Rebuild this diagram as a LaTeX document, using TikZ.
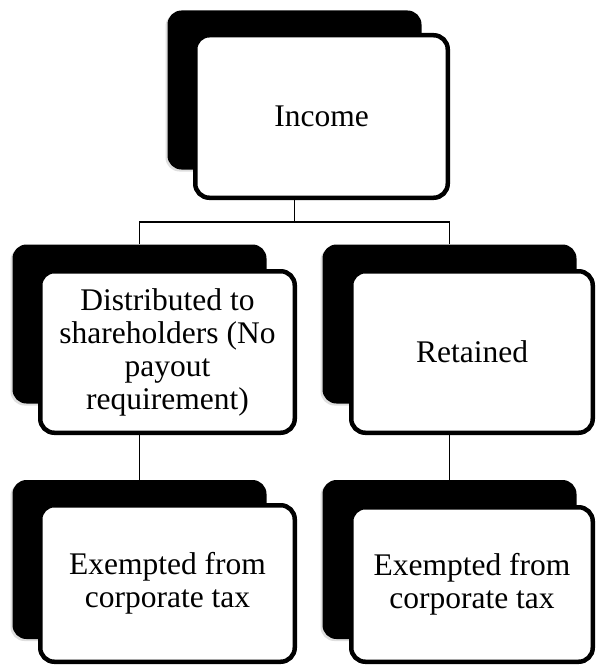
\documentclass[tikz,border=0pt]{standalone}
\usepackage{fontspec}
\setmainfont{Liberation Serif}
\begin{document}
\begin{tikzpicture}[x=1pt,y=-1pt,
  backbox/.style={fill=black, rounded corners=14pt, inner sep=0pt, minimum width=254pt, minimum height=159pt},
  shade/.style={fill=black!25, opacity=0.5, rounded corners=14pt, inner sep=0pt, minimum width=254pt, minimum height=159pt},
  frontbox/.style={draw=black, line width=4.5pt, fill=white, rounded corners=14pt, inner sep=0pt,
    align=center, font=\fontsize{31.5}{33}\selectfont},
  conn/.style={draw=black, line width=1.5pt}]
\useasboundingbox (0,0) rectangle (595,666);
% shadows
\node[shade] at (292.5,92) {};
\node[shade] at (137.5,326) {};
\node[shade] at (447.5,326) {};
\node[shade] at (137.5,561.5) {};
\node[shade] at (447.5,561.5) {};
% back boxes
\node[backbox] (tb) at (294.5,90) {};
\node[backbox] (lb) at (139.5,324) {};
\node[backbox] (rb) at (449.5,324) {};
\node[backbox] (blb) at (139.5,559.5) {};
\node[backbox] (brb) at (449.5,559.5) {};
% front boxes
\node[frontbox, minimum width=252.5pt, minimum height=162.5pt] (tf) at (321.5,116.5) {Income};
\node[frontbox, minimum width=254.5pt, minimum height=161.5pt] (lf) at (167.5,352) {Distributed to\\shareholders (No\\payout\\requirement)};
\node[frontbox, minimum width=241.5pt, minimum height=161.5pt] (rf) at (472,352) {Retained};
\node[frontbox, minimum width=254.5pt, minimum height=156.5pt] (blf) at (167.5,583.5) {Exempted from\\corporate tax};
\node[frontbox, minimum width=241.5pt, minimum height=154.5pt] (brf) at (472,584.5) {Exempted from\\corporate tax};
% connectors
\coordinate (j) at (294.5,222);
\draw[conn] ([yshift=2.25pt]tb.center |- tf.south) -- (tb.center |- j) -| (lb.north);
\draw[conn] (tb.center |- j) -| (rb.north);
\draw[conn] ([yshift=2.25pt]lb.center |- lf.south) -- (blb.north);
\draw[conn] ([yshift=2.25pt]rb.center |- rf.south) -- (brb.north);
\end{tikzpicture}
\end{document}
